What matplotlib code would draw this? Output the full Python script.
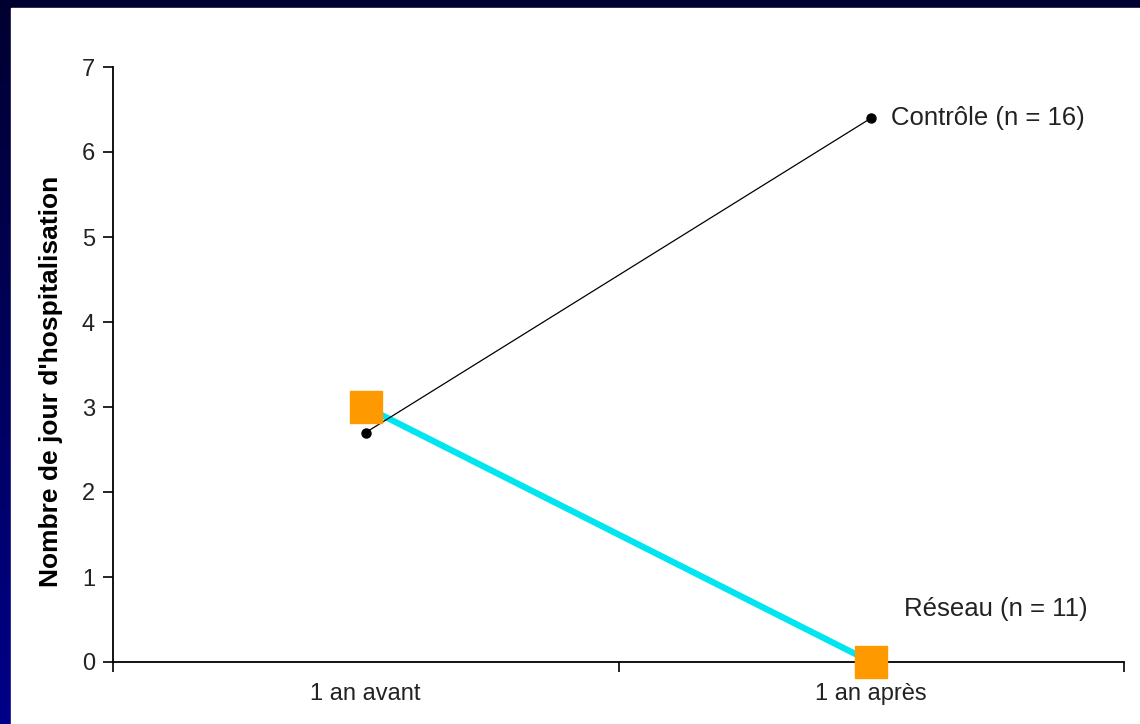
import matplotlib
matplotlib.use("Agg")
import matplotlib.pyplot as plt
from matplotlib.colors import LinearSegmentedColormap
import numpy as np

plt.rcParams['font.family'] = ['Liberation Sans', 'DejaVu Sans']

# data
categories = ["1 an avant", "1 an après"]
controle = [2.7, 6.4]
reseau = [3.0, 0.0]
controle_label = "Contrôle (n = 16)"
reseau_label = "Réseau (n = 11)"
y_ticks = [0, 1, 2, 3, 4, 5, 6, 7]

W, H = 1140, 724
fig = plt.figure(figsize=(W / 100, H / 100), dpi=100)

# navy frame with vertical gradient, white slide area
bg = fig.add_axes([0, 0, 1, 1])
grad = np.linspace(0, 1, 256).reshape(-1, 1)
cmap = LinearSegmentedColormap.from_list("navy", ["#000030", "#000088"])
bg.imshow(grad, aspect="auto", cmap=cmap, extent=[0, 1, 0, 1], origin="upper")
bg.add_patch(plt.Rectangle((11 / W, 0), 1, 1 - 8 / H, color="white", transform=bg.transAxes))
bg.set_axis_off()

ax = fig.add_axes([113 / W, 1 - 662 / H, (1124 - 113) / W, (662 - 67) / H])
ax.set_facecolor("none")

x = np.arange(len(categories))
ax.plot(x, controle, color="black", lw=0.9, marker="o", ms=6.5, zorder=3, clip_on=False)
ax.plot(x, reseau, color="#00e6f0", lw=4.5, zorder=2, clip_on=False)
ax.plot(x, reseau, ls="none", marker="s", ms=23, color="#ff9900", zorder=4, clip_on=False)

txt = "#222222"
ax.set_xlim(-0.5, 1.5)
ax.set_ylim(0, 7)
ax.set_yticks(y_ticks)
ax.set_xticks([-0.5, 0.5, 1.5], minor=False)
ax.set_xticklabels([])
ax.set_xticks(x, minor=True)
ax.set_xticklabels(categories, minor=True)
ax.tick_params(axis="x", which="major", direction="out", length=7, width=1.2)
ax.tick_params(axis="x", which="minor", length=0, pad=15, labelsize=17, labelcolor=txt)
ax.tick_params(axis="y", direction="out", length=7, width=1.2, pad=6, labelsize=17, labelcolor=txt)
for s in ["top", "right"]:
    ax.spines[s].set_visible(False)
ax.spines["left"].set_linewidth(1.3)
ax.spines["bottom"].set_linewidth(1.3)
ax.set_ylabel("Nombre de jour d'hospitalisation", fontsize=19, fontweight="bold")
ax.yaxis.set_label_coords(-0.049, 0.472)

ax.text(1.04, controle[1], controle_label, fontsize=18.5, va="center", ha="left", color=txt)
ax.text(1.065, 0.62, reseau_label, fontsize=18.5, va="center", ha="left", color=txt)

fig.savefig("out.png", dpi=100)
